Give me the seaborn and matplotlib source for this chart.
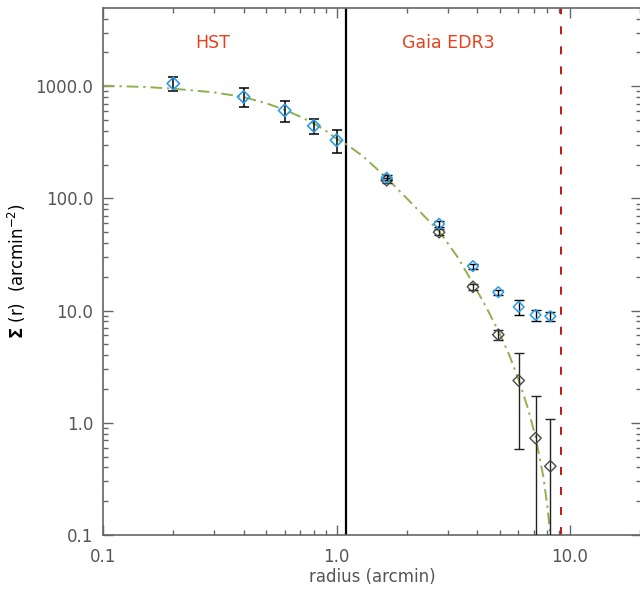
import numpy as np
import pandas as pd
import matplotlib
matplotlib.use("Agg")
import matplotlib.pyplot as plt
from matplotlib.ticker import FuncFormatter, NullFormatter, LogLocator
import seaborn as sns

# ---- data ----
hst_r = [0.2, 0.4, 0.6, 0.8, 1.0]
hst_sigma = [1057, 803, 608, 443, 330]
hst_err = [155, 155, 128, 70, 75]

gaia_r = [1.64, 2.75, 3.84, 4.93, 6.03, 7.12, 8.24]
gaia_all = [153, 59.3, 24.9, 14.6, 10.8, 9.16, 8.9]
gaia_all_err = [7, 4, 1.2, 0.8, 1.75, 1.0, 0.75]
gaia_sub = [145, 50, 16.3, 6.1, 2.38, 0.73, 0.41]
gaia_sub_err = [7, 3, 1.0, 0.65, 1.8, 1.0, 0.68]

fit_r = [0.1, 0.15, 0.2, 0.3, 0.4, 0.5, 0.6, 0.7, 0.8, 0.9, 1.0, 1.1, 1.3,
         1.64, 2.0, 2.4, 2.75, 3.3, 3.84, 4.4, 4.93, 5.5, 6.03, 6.6, 7.12,
         7.69, 8.0, 8.24, 8.35]
fit_sigma = [1010, 985, 950, 880, 800, 705, 615, 535, 465, 400, 340, 305, 237,
             152, 100, 68, 51, 30, 17.5, 10.5, 6.6, 4.0, 2.4, 1.35, 0.75,
             0.33, 0.18, 0.1, 0.06]

r_core_split = 1.1
r_tidal = 9.15

x_ticks = [0.1, 1.0, 10.0]
y_ticks = [0.1, 1.0, 10.0, 100.0, 1000.0]

sns.set_style("ticks")
plt.rcParams['font.family'] = ['DejaVu Sans']

W, H = 640, 592
fig = plt.figure(figsize=(W / 100, H / 100), dpi=100)
left, right, top, bottom = 103, 641, 8, 535
ax = fig.add_axes([left / W, (H - bottom) / H, (right - left) / W, (bottom - top) / H])
ax.set_xscale('log')
ax.set_yscale('log')
ax.set_xlim(0.1, 10 ** (-1 + (right - left) / 233.5))
ax.set_ylim(0.1, 10 ** (-1 + (bottom - top) / 112.2))

green = '#8fb04e'
blue = '#2a9cea'
dgray = '#4a4a4a'

fit_df = pd.DataFrame({'r': fit_r, 'sigma': fit_sigma})
sns.lineplot(data=fit_df, x='r', y='sigma', ax=ax, color=green, lw=1.4,
             sort=False, zorder=2)
ax.lines[-1].set_dashes([6, 2.5, 1.2, 2.5])

ax.axvline(r_core_split, color='black', lw=1.6, zorder=1)
ax.axvline(r_tidal, color='#c81414', lw=1.4, dashes=(4.1, 6.2), zorder=1)

# Gaia background-subtracted (dark diamonds)
ax.errorbar(gaia_r, gaia_sub, yerr=gaia_sub_err, fmt='none', ecolor='#222222',
            elinewidth=1.0, capsize=3.5, capthick=1.0, zorder=3)
sub_df = pd.DataFrame({'r': gaia_r, 'sigma': gaia_sub})
sns.scatterplot(data=sub_df, x='r', y='sigma', ax=ax, marker='D', s=34,
                facecolor='none', edgecolor=dgray, linewidth=1.0, zorder=4)

# Gaia total (blue diamonds)
ax.errorbar(gaia_r, gaia_all, yerr=gaia_all_err, fmt='none', ecolor='black',
            elinewidth=1.0, capsize=3.5, capthick=1.0, zorder=5)
all_df = pd.DataFrame({'r': gaia_r, 'sigma': gaia_all})
sns.scatterplot(data=all_df, x='r', y='sigma', ax=ax, marker='D', s=30,
                facecolor='none', edgecolor=blue, linewidth=1.1, zorder=6)

# HST
ax.errorbar(hst_r, hst_sigma, yerr=hst_err, fmt='none', ecolor='black',
            elinewidth=1.1, capsize=3.5, capthick=1.1, zorder=5)
hst_df = pd.DataFrame({'r': hst_r, 'sigma': hst_sigma})
sns.scatterplot(data=hst_df, x='r', y='sigma', ax=ax, marker='D', s=40,
                facecolor='none', edgecolor=blue, linewidth=1.2, zorder=6)

# ticks
fmt = FuncFormatter(lambda v, p: f"{v:.1f}")
ax.set_xticks(x_ticks)
ax.set_yticks(y_ticks)
ax.xaxis.set_major_formatter(fmt)
ax.yaxis.set_major_formatter(fmt)
ax.xaxis.set_minor_locator(LogLocator(base=10, subs=np.arange(2, 10), numticks=20))
ax.yaxis.set_minor_locator(LogLocator(base=10, subs=np.arange(2, 10), numticks=20))
ax.xaxis.set_minor_formatter(NullFormatter())
ax.yaxis.set_minor_formatter(NullFormatter())
ax.tick_params(which='both', direction='in', top=True, right=True,
               color='#666666', width=1.0, labelcolor='#555555', labelsize=12)
ax.tick_params(which='major', length=7.5)
ax.tick_params(which='minor', length=3.8)
ax.tick_params(axis='x', which='major', pad=9)
ax.tick_params(axis='y', which='major', pad=7)

for sp in ax.spines.values():
    sp.set_color('#666666')
    sp.set_linewidth(1.2)

ax.set_xlabel('radius (arcmin)', fontsize=12, color='#555555', labelpad=2)
ax.set_ylabel(r'$\mathbf{\Sigma}$ (r)  (arcmin$^{-2}$)', fontsize=12,
              color='black', labelpad=5)

ax.text(0.2047, 0.9336, 'HST', transform=ax.transAxes, color='#e8401c',
        fontsize=12.5, ha='center', va='center')
ax.text(0.642, 0.9336, 'Gaia EDR3', transform=ax.transAxes, color='#e8401c',
        fontsize=12.5, ha='center', va='center')

fig.savefig('out.png', dpi=100)
